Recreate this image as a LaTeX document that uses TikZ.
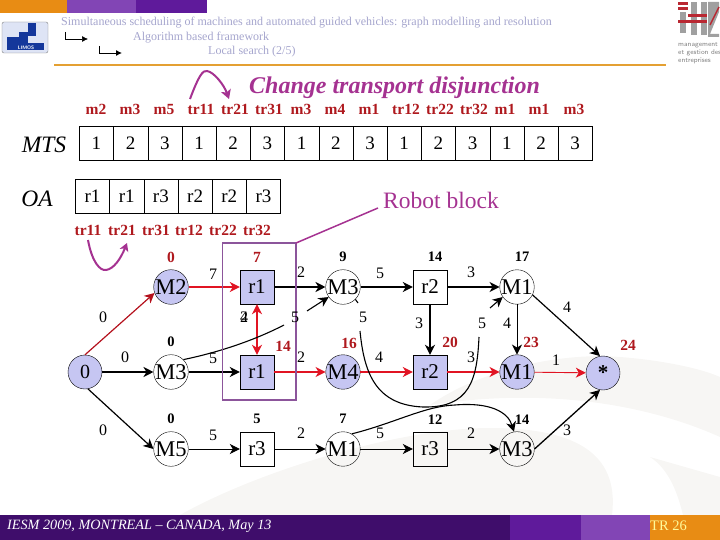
\documentclass[tikz,border=0pt]{standalone}
\usepackage{fontspec}
\setmainfont{Liberation Serif}
\usepackage{xcolor}
\usetikzlibrary{arrows.meta}
\definecolor{barorange}{RGB}{232, 140, 20}
\definecolor{barviolet}{RGB}{130, 69, 181}
\definecolor{barpurple}{RGB}{95, 26, 155}
\definecolor{bardark}{RGB}{63, 13, 107}
\definecolor{rulegold}{RGB}{228, 160, 50}
\definecolor{headgrey}{RGB}{165, 165, 205}
\definecolor{slidemagenta}{RGB}{165, 50, 145}
\definecolor{boxpurple}{RGB}{140, 85, 155}
\definecolor{opred}{RGB}{175, 25, 30}
\definecolor{pathred}{RGB}{225, 20, 35}
\definecolor{critfill}{RGB}{198, 198, 242}
\definecolor{swoosh}{RGB}{247, 246, 244}
\definecolor{logoblue}{RGB}{20, 55, 155}
\definecolor{logopale}{RGB}{222, 228, 245}
\definecolor{logored}{RGB}{185, 40, 50}
\definecolor{logogrey}{RGB}{160, 160, 160}
\tikzset{
    seqcell/.style={draw, minimum width=34.2pt, minimum height=34pt, inner sep=0pt,
        font=\fontsize{19}{19}\selectfont},
    rowlabel/.style={font=\fontsize{23.5}{24}\selectfont\itshape},
    oplabel/.style={text=opred, inner sep=0pt, text height=10pt, text depth=0pt,
        font=\fontsize{15.5}{16}\selectfont\bfseries},
    mach/.style={draw, circle, minimum size=34pt, inner sep=0pt,
        font=\fontsize{22.5}{23}\selectfont},
    robot/.style={draw, minimum size=34pt, inner sep=0pt,
        font=\fontsize{21}{21}\selectfont},
    crit/.style={fill=critfill},
    wlabel/.style={inner sep=0pt, font=\fontsize{16}{16}\selectfont},
    dlabel/.style={inner sep=0pt, font=\fontsize{14.5}{15}\selectfont\bfseries},
    dcrit/.style={inner sep=0pt, text=opred, font=\fontsize{15.5}{16}\selectfont\bfseries},
    headtext/.style={text=headgrey, inner sep=0pt, font=\fontsize{12}{13}\selectfont},
    arc/.style={-{Stealth[length=10pt, width=10pt, inset=3pt]}, line width=1.5pt},
    thinarc/.style={-{Stealth[length=10pt, width=10pt, inset=3pt]}, line width=0.9pt},
}
\begin{document}
\begin{tikzpicture}[x=1pt, y=-1pt]
    \useasboundingbox (0,0) rectangle (720,540);
    % grey swooshes behind the graph
    \fill[swoosh] (180,515) .. controls (260,470) and (400,428) .. (490,428)
        .. controls (570,428) and (620,450) .. (612,515) -- cycle;
    \fill[swoosh] (430,405) .. controls (480,370) and (560,352) .. (620,357)
        .. controls (660,360) and (700,368) .. (720,377) -- (720,437)
        .. controls (660,410) and (560,385) .. (430,405) -- cycle;
    \fill[swoosh] (650,457) .. controls (670,470) and (678,495) .. (683,515)
        -- (720,515) -- (720,477) -- cycle;
    % top bar
    \fill[barorange] (0,0) rectangle (67,13);
    \fill[barviolet] (67,0) rectangle (136,13);
    \fill[barpurple] (136,0) rectangle (207,13);
    % bottom bar
    \fill[bardark] (0,515) rectangle (510,540);
    \fill[barpurple] (510,515) rectangle (581,540);
    \fill[barviolet] (581,515) rectangle (650,540);
    \fill[barorange] (650,515) rectangle (720,540);
    \node[anchor=west, inner sep=0pt, text=white, font=\fontsize{14.2}{15}\selectfont\itshape]
        (conf) at (7,526) {IESM 2009, MONTREAL -- CANADA, May 13};
    \node[anchor=west, inner sep=0pt, text=yellow!40, font=\fontsize{14.5}{15}\selectfont]
        (slidenum) at (650,526) {TR 26};
    % left logo
    \fill[logopale, draw=gray, rounded corners=2pt] (2,22) rectangle (48,53);
    \fill[logoblue] (7,37) rectangle (19,50);
    \fill[logoblue] (19,32) rectangle (28,50);
    \fill[logoblue] (28,23) rectangle (36,36);
    \fill[logoblue] (28,43) rectangle (44,50);
    \node[inner sep=0pt, text=white, font=\fontsize{5}{5}\selectfont\bfseries\sffamily]
        (limos) at (26,47.5) {LIMOS};
    % right logo
    \fill[logogrey] (680,12) rectangle (686,33);
    \fill[logored] (678,2) rectangle (688,5);
    \fill[logored] (678,7) rectangle (688,10);
    \fill[logogrey] (691,2) rectangle (697,35);
    \fill[logogrey] (701,2) rectangle (707,35);
    \fill[logored] (688,14) rectangle (707,17);
    \fill[logored] (678,20) rectangle (707,23);
    \fill[logogrey] (708,2) -- (719,2) -- (719,12) -- (710,34) -- (719,34) -- (719,37) -- (708,37) -- cycle;
    \draw[logored, line width=1.5pt] (710,25) -- (719,7);
    \node[anchor=west, inner sep=0pt, text=gray, font=\fontsize{7}{7}\selectfont\sffamily]
        (logoa) at (678,45) {management};
    \node[anchor=west, inner sep=0pt, text=gray, font=\fontsize{7}{7}\selectfont\sffamily]
        (logob) at (678,53) {et gestion des};
    \node[anchor=west, inner sep=0pt, text=gray, font=\fontsize{7}{7}\selectfont\sffamily]
        (logoc) at (678,61) {entreprises};
    % heading
    \node[headtext, anchor=west] (heada) at (61,23) {Simultaneous scheduling of machines and automated guided vehicles: graph modelling and resolution};
    \node[headtext, anchor=west] (headb) at (133,38) {Algorithm based framework};
    \node[headtext, anchor=west] (headc) at (208,52) {Local search (2/5)};
    \coordinate (elbowa) at (65,32);
    \coordinate (elbowatip) at (88,39);
    \coordinate (elbowb) at (99,46);
    \coordinate (elbowbtip) at (122,53);
    \draw[-{Latex[length=6pt, width=6pt]}, line width=0.7pt] (elbowa) |- (elbowatip);
    \draw[-{Latex[length=6pt, width=6pt]}, line width=0.9pt] (elbowb) |- (elbowbtip);
    \draw[rulegold, line width=1.3pt] (54,65) -- (666,65);
    % title and its swap arrow
    \node[anchor=west, inner sep=0pt, text=slidemagenta, font=\fontsize{24}{24}\selectfont\bfseries\itshape]
        (title) at (249,88) {Change transport disjunction};
    \coordinate (swapa) at (190,99);
    \coordinate (swapb) at (229,99);
    \draw[-{Stealth[length=9pt, width=10pt, inset=2pt]}, slidemagenta, line width=2pt]
        (swapa) .. controls (199,75) and (203,70) .. (207,71) .. controls (214,72) and (224,85) .. (swapb);
    % operations above MTS
    \node[oplabel] (opa) at (96,110) {m2};
    \node[oplabel] (opb) at (130,110) {m3};
    \node[oplabel] (opc) at (164,110) {m5};
    \node[oplabel] (opd) at (201,110) {tr11};
    \node[oplabel] (ope) at (235,110) {tr21};
    \node[oplabel] (opf) at (269,110) {tr31};
    \node[oplabel] (opg) at (301,110) {m3};
    \node[oplabel] (oph) at (335,110) {m4};
    \node[oplabel] (opi) at (369,110) {m1};
    \node[oplabel] (opj) at (406,110) {tr12};
    \node[oplabel] (opk) at (440,110) {tr22};
    \node[oplabel] (opl) at (474,110) {tr32};
    \node[oplabel] (opm) at (505,110) {m1};
    \node[oplabel] (opn) at (539,110) {m1};
    \node[oplabel] (opo) at (574,110) {m3};
    % MTS vector
    \node[rowlabel] (mts) at (44,145) {MTS};
    \node[seqcell] (mtsa) at (96.4,143) {1};
    \node[seqcell] (mtsb) at (130.6,143) {2};
    \node[seqcell] (mtsc) at (164.8,143) {3};
    \node[seqcell] (mtsd) at (199,143) {1};
    \node[seqcell] (mtse) at (233.2,143) {2};
    \node[seqcell] (mtsf) at (267.4,143) {3};
    \node[seqcell] (mtsg) at (301.6,143) {1};
    \node[seqcell] (mtsh) at (335.8,143) {2};
    \node[seqcell] (mtsi) at (370,143) {3};
    \node[seqcell] (mtsj) at (404.2,143) {1};
    \node[seqcell] (mtsk) at (438.4,143) {2};
    \node[seqcell] (mtsl) at (472.6,143) {3};
    \node[seqcell] (mtsm) at (506.8,143) {1};
    \node[seqcell] (mtsn) at (541,143) {2};
    \node[seqcell] (mtso) at (575.2,143) {3};
    % OA vector
    \node[rowlabel] (oa) at (37,199) {OA};
    \node[seqcell] (oaa) at (92.5,196.3) {r1};
    \node[seqcell] (oab) at (126.7,196.3) {r1};
    \node[seqcell] (oac) at (160.9,196.3) {r3};
    \node[seqcell] (oad) at (195.1,196.3) {r2};
    \node[seqcell] (oae) at (229.3,196.3) {r2};
    \node[seqcell] (oaf) at (263.5,196.3) {r3};
    % transports below OA
    \node[oplabel] (tra) at (88,231) {tr11};
    \node[oplabel] (trb) at (122,231) {tr21};
    \node[oplabel] (trc) at (156,231) {tr31};
    \node[oplabel] (trd) at (189,231) {tr12};
    \node[oplabel] (tre) at (223,231) {tr22};
    \node[oplabel] (trf) at (257,231) {tr32};
    \coordinate (loopa) at (88,240);
    \coordinate (loopb) at (127,243);
    \draw[-{Stealth[length=8pt, width=9pt, inset=2pt]}, slidemagenta, line width=2pt]
        (loopa) .. controls (92,262) and (100,271) .. (106,270) .. controls (114,269) and (121,258) .. (loopb);
    \node[inner sep=0pt, text=slidemagenta, font=\fontsize{23.5}{24}\selectfont]
        (blocklabel) at (441,200) {Robot block};
    % graph vertices, first row
    \node[mach, crit] (mtwot) at (171,287) {M2};
    \node[robot, crit] (ronet) at (257,287) {r1};
    \node[mach] (mthreet) at (343,287) {M3};
    \node[robot] (rtwot) at (430,287) {r2};
    \node[mach] (monet) at (517,287) {M1};
    % second row
    \node[mach, crit, font=\fontsize{20}{20}\selectfont] (start) at (85,372) {0};
    \node[mach] (mthreem) at (171,372) {M3};
    \node[robot, crit] (ronem) at (257,372) {r1};
    \node[mach, crit] (mfourm) at (343,372) {M4};
    \node[robot, crit] (rtwom) at (430,372) {r2};
    \node[mach, crit] (monem) at (517,372) {M1};
    \node[mach, crit, font=\fontsize{21}{21}\selectfont\bfseries] (finish) at (603,373) {*};
    % third row
    \node[mach] (mfiveb) at (171,449) {M5};
    \node[robot] (rthreeb) at (257,449) {r3};
    \node[mach] (moneb) at (343,449) {M1};
    \node[robot] (rthreec) at (430,449) {r3};
    \node[mach] (mthreeb) at (517,449) {M3};
    % arcs of the first row
    \draw[arc, pathred] (mtwot) -- (ronet);
    \draw[arc] (ronet) -- (mthreet);
    \draw[arc] (mthreet) -- (rtwot);
    \draw[arc] (rtwot) -- (monet);
    % arcs of the second row
    \draw[arc] (start) -- (mthreem);
    \draw[arc] (mthreem) -- (ronem);
    \draw[arc, pathred] (ronem) -- (mfourm);
    \draw[arc, pathred] (mfourm) -- (rtwom);
    \draw[arc, pathred] (rtwom) -- (monem);
    \draw[thinarc, pathred] (monem) -- (finish);
    % arcs of the third row
    \draw[thinarc] (mfiveb) -- (rthreeb);
    \draw[thinarc] (rthreeb) -- (moneb);
    \draw[thinarc] (moneb) -- (rthreec);
    \draw[thinarc] (rthreec) -- (mthreeb);
    % arcs between rows
    \draw[thinarc, line width=1.2pt, pathred!80!black] (start.90) -- (mtwot.200);
    \draw[thinarc, line width=1.2pt] (start.-80) -- (mfiveb.180);
    \draw[arc, pathred, {Stealth[length=10pt, width=10pt, inset=3pt]}-{Stealth[length=10pt, width=10pt, inset=3pt]}] (ronet) -- (ronem);
    \draw[arc] (rtwot) -- (rtwom);
    \draw[thinarc] (monet) -- (monem);
    \draw[arc, line width=1.2pt] (monet.-27) -- (finish.100);
    \draw[arc, line width=1.3pt] (mthreeb.east) -- (finish.-100);
    % broken curves, cut where a weight sits
    \coordinate (cutca) at (284,325);
    \coordinate (cutcb) at (307,311);
    \draw[line width=1.1pt] (mthreem.45) .. controls (220,352) and (255,340) .. (cutca);
    \draw[arc, line width=1.1pt] (cutcb) -- (mthreet.215);
    \coordinate (cutaa) at (358,303);
    \coordinate (cutab) at (360,331);
    \coordinate (cutac) at (423,407);
    \coordinate (cutad) at (479,337);
    \coordinate (cutae) at (490,308);
    \draw[line width=1.1pt] (mthreet.-45) -- (cutaa);
    \draw[line width=1.1pt] (cutab) .. controls (364,372) and (375,405) .. (cutac)
        .. controls (470,408) and (477,380) .. (cutad);
    \draw[arc, line width=1.1pt] (cutae) -- (monet.215);
    \coordinate (bendb) at (455,405);
    \draw[arc, line width=1.1pt] (moneb.60) .. controls (395,423) and (425,406) .. (bendb)
        .. controls (490,402) and (508,412) .. (mthreeb.100);
    % robot block frame
    \coordinate (framea) at (222.3,243);
    \coordinate (frameb) at (296,400);
    \coordinate (framec) at (296,243);
    \coordinate (framed) at (378,208);
    \draw[boxpurple, line width=1.5pt] (framea) rectangle (frameb);
    \draw[slidemagenta, line width=1.5pt] (framec) -- (framed);
    % arc weights
    \node[wlabel] (wa) at (213,274) {7};
    \node[wlabel] (wb) at (301,272) {2};
    \node[wlabel] (wc) at (380,273) {5};
    \node[wlabel] (wd) at (471,272) {3};
    \node[wlabel] (we) at (567,307) {4};
    \node[wlabel] (wf) at (507,323) {4};
    \node[wlabel] (wg) at (419,323) {3};
    \node[wlabel] (wh) at (103,317) {0};
    \node[wlabel] (wi) at (125,357) {0};
    \node[wlabel] (wj) at (213,358) {5};
    \node[wlabel] (wk) at (301,357) {2};
    \node[wlabel] (wl) at (379,357) {4};
    \node[wlabel] (wm) at (471,357) {3};
    \node[wlabel] (wn) at (556,360) {1};
    \node[wlabel] (wo) at (567,430) {3};
    \node[wlabel] (wp) at (103,430) {0};
    \node[wlabel] (wq) at (213,435) {5};
    \node[wlabel] (wr) at (301,433) {2};
    \node[wlabel] (ws) at (471,433) {2};
    \node[wlabel] (wt) at (380,433) {5};
    \node[wlabel] (wu) at (244,317) {2};
    \node[wlabel] (wv) at (244,317) {4};
    \node[wlabel] (ww) at (295,317) {5};
    \node[wlabel] (wx) at (363,317) {5};
    \node[wlabel] (wy) at (482,323) {5};
    % start dates
    \node[dcrit] (da) at (171,257) {0};
    \node[dcrit] (db) at (257,257) {7};
    \node[dlabel] (dc) at (343,257) {9};
    \node[dlabel] (dd) at (435,257) {14};
    \node[dlabel] (de) at (522,257) {17};
    \node[dlabel] (df) at (171,342) {0};
    \node[dcrit] (dg) at (283,346) {14};
    \node[dcrit] (dh) at (349,343) {16};
    \node[dcrit] (di) at (450,342) {20};
    \node[dcrit] (dj) at (531,342) {23};
    \node[dcrit] (dk) at (628,345) {24};
    \node[dlabel] (dl) at (171,419) {0};
    \node[dlabel] (dm) at (257,419) {5};
    \node[dlabel] (dn) at (343,419) {7};
    \node[dlabel] (dp) at (435,420) {12};
    \node[dlabel] (dq) at (522,420) {14};
\end{tikzpicture}
\end{document}
